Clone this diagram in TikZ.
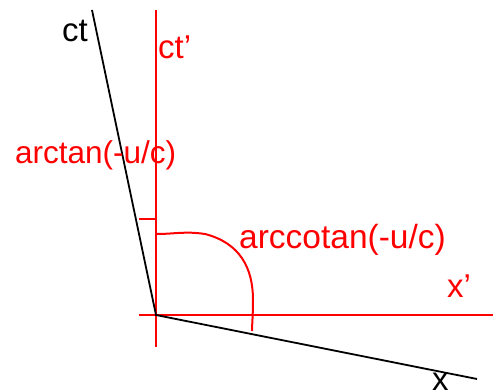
\documentclass[tikz,border=0pt]{standalone}
\usepackage{fontspec}
\setmainfont{Liberation Sans}
\begin{document}
\begin{tikzpicture}[x=1pt,y=-1pt,
  redline/.style={draw=red,line width=2pt},
  blackline/.style={draw=black,line width=1.8pt},
  lbl/.style={inner sep=0pt,anchor=base west,font=\fontsize{33}{36}\selectfont},
  redlbl/.style={lbl,text=red},
  blacklbl/.style={lbl,text=black}]
\useasboundingbox (0,0) rectangle (493,391);
\coordinate (O) at (156,315);
\coordinate (ctTop) at (92,10);
\coordinate (xEnd) at (477,379);
\coordinate (ctpTop) at (156,10);
\coordinate (ctpBot) at (156,347);
\coordinate (xpLeft) at (139,315);
\coordinate (xpRight) at (493,315);
\coordinate (tickL) at (139,219);
\coordinate (tickR) at (156,219);
\coordinate (arcS) at (156,234);
\coordinate (arcE) at (252,331);
% red axes
\draw[redline] (ctpTop) -- (ctpBot);
\draw[redline] (xpLeft) -- (xpRight);
\draw[redline] (tickL) -- (tickR);
\draw[redline] (arcS) .. controls (175,234) and (185,231) .. (205,234)
  .. controls (240,243) and (253,268) .. (253,300)
  .. controls (253,315) and (252,325) .. (arcE);
% black axes
\draw[blackline] (ctTop) -- (O) -- (xEnd);
% labels
\node[blacklbl] (ct) at (62,41) {ct};
\node[redlbl] (ctp) at (158,58) {ct’};
\node[redlbl,font=\fontsize{31.5}{36}\selectfont] (atan) at (15,163) {arctan(-u/c)};
\node[redlbl,font=\fontsize{33.5}{36}\selectfont] (acot) at (239,248) {arccotan(-u/c)};
\node[redlbl] (xp) at (447,297) {x’};
\node[blacklbl] (x) at (432,390) {x};
\end{tikzpicture}
\end{document}
